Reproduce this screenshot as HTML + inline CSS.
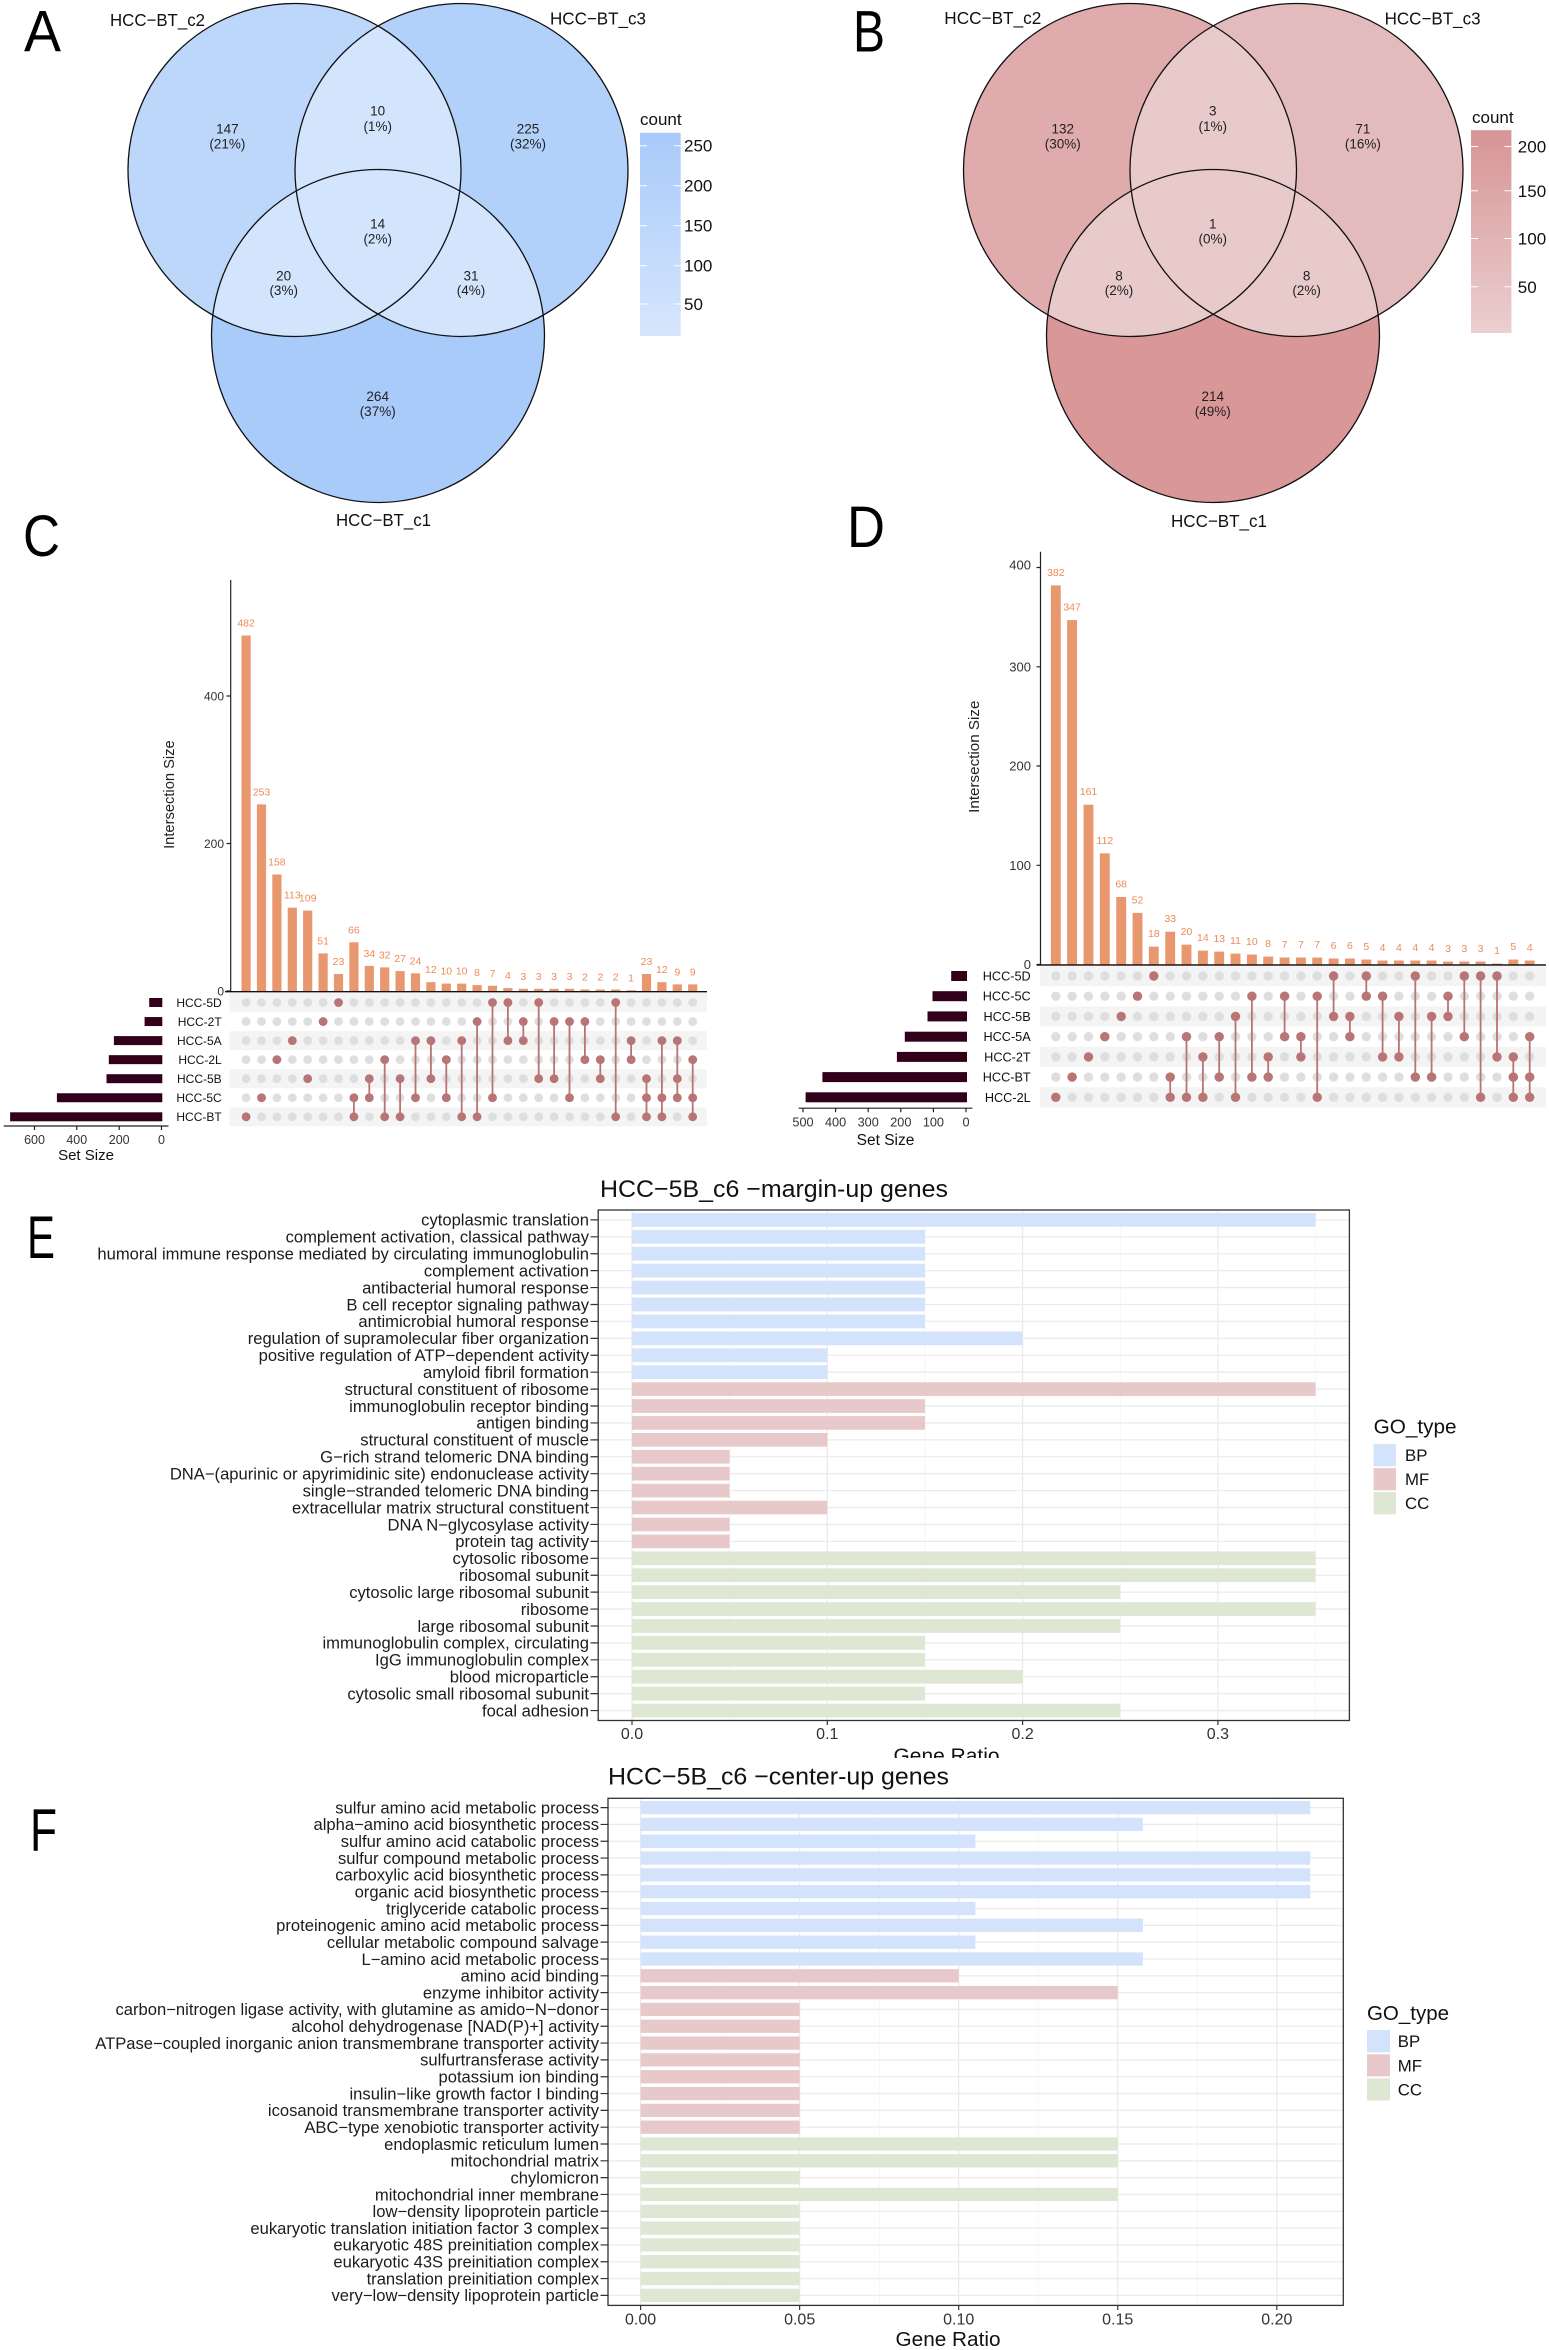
<!DOCTYPE html>
<html><head><meta charset="utf-8"><title>Figure</title>
<style>
html,body{margin:0;padding:0;background:#fff;}
svg{display:block;font-family:"Liberation Sans",Arial,sans-serif;}
</style></head>
<body>
<svg xmlns="http://www.w3.org/2000/svg" width="1549" height="2350" viewBox="0 0 1549 2350">
<defs>
<clipPath id="a2"><circle cx="294.5" cy="170" r="166.5"/></clipPath>
<clipPath id="a3"><circle cx="461.5" cy="170" r="166.5"/></clipPath>
<clipPath id="b2"><circle cx="1130" cy="170" r="166.5"/></clipPath>
<clipPath id="b3"><circle cx="1296.5" cy="170" r="166.5"/></clipPath>
<linearGradient id="ga" x1="0" y1="0" x2="0" y2="1"><stop offset="0" stop-color="#a8cafa"/><stop offset="1" stop-color="#d6e6fd"/></linearGradient>
<linearGradient id="gb" x1="0" y1="0" x2="0" y2="1"><stop offset="0" stop-color="#d79495"/><stop offset="1" stop-color="#ebcfd0"/></linearGradient>
<pattern id="pc" patternUnits="userSpaceOnUse" x="238.4" y="992.975" width="15.4" height="19.05"><circle cx="7.7" cy="9.525" r="4.4" fill="#dedede"/></pattern>
<pattern id="pd" patternUnits="userSpaceOnUse" x="1047.63" y="965.89" width="16.34" height="20.22"><circle cx="8.17" cy="10.11" r="4.7" fill="#dedede"/></pattern>
<clipPath id="ce"><rect x="0" y="1700" width="1549" height="58"/></clipPath>
</defs>
<rect width="1549" height="2350" fill="#fff"/>

<!-- ================= PANEL A ================= -->
<text x="24" y="51.5" font-size="58" textLength="37" lengthAdjust="spacingAndGlyphs">A</text>
<circle cx="294.5" cy="170" r="166.5" fill="#bdd7fb"/>
<circle cx="461.5" cy="170" r="166.5" fill="#b1d0fa"/>
<circle cx="378" cy="336" r="166.5" fill="#a9cbfa"/>
<g clip-path="url(#a2)"><circle cx="461.5" cy="170" r="166.5" fill="#d3e4fd"/><circle cx="378" cy="336" r="166.5" fill="#d3e4fd"/></g>
<g clip-path="url(#a3)"><circle cx="378" cy="336" r="166.5" fill="#d3e4fd"/></g>
<g fill="none" stroke="#111" stroke-width="1.3">
<circle cx="294.5" cy="170" r="166.5"/><circle cx="461.5" cy="170" r="166.5"/><circle cx="378" cy="336" r="166.5"/>
</g>
<g font-size="17.5" fill="#111">
<text x="110" y="26" textLength="95" lengthAdjust="spacingAndGlyphs">HCC−BT_c2</text>
<text x="550" y="24.5" textLength="96" lengthAdjust="spacingAndGlyphs">HCC−BT_c3</text>
<text x="336" y="526" textLength="95" lengthAdjust="spacingAndGlyphs">HCC−BT_c1</text>
</g>
<g font-size="13.5" fill="#222" text-anchor="middle">
<text x="227.4" y="133.3">147</text><text x="227.4" y="148.5">(21%)</text>
<text x="377.7" y="115.7">10</text><text x="377.7" y="130.9">(1%)</text>
<text x="528" y="133.3">225</text><text x="528" y="148.5">(32%)</text>
<text x="377.7" y="228.6">14</text><text x="377.7" y="243.5">(2%)</text>
<text x="283.7" y="280.3">20</text><text x="283.7" y="294.8">(3%)</text>
<text x="471" y="280.3">31</text><text x="471" y="294.8">(4%)</text>
<text x="377.7" y="401">264</text><text x="377.7" y="415.9">(37%)</text>
</g>
<text x="640" y="125" font-size="17" fill="#111">count</text>
<rect x="640" y="132.8" width="40.7" height="203.2" fill="url(#ga)"/>
<g stroke="#fff" stroke-width="1">
<path d="M640 145.7h7M673.7 145.7h7M640 185.7h7M673.7 185.7h7M640 225.7h7M673.7 225.7h7M640 265.7h7M673.7 265.7h7M640 304h7M673.7 304h7"/>
</g>
<g font-size="17" fill="#111">
<text x="684" y="151.7">250</text><text x="684" y="191.7">200</text><text x="684" y="231.5">150</text><text x="684" y="271.5">100</text><text x="684" y="309.8">50</text>
</g>

<!-- ================= PANEL B ================= -->
<text x="853" y="51.5" font-size="58" textLength="32" lengthAdjust="spacingAndGlyphs">B</text>
<circle cx="1130" cy="170" r="166.5" fill="#dfabac"/>
<circle cx="1296.5" cy="170" r="166.5" fill="#e3bbbc"/>
<circle cx="1213" cy="336" r="166.5" fill="#d99798"/>
<g clip-path="url(#b2)"><circle cx="1296.5" cy="170" r="166.5" fill="#e8cacb"/><circle cx="1213" cy="336" r="166.5" fill="#e8cacb"/></g>
<g clip-path="url(#b3)"><circle cx="1213" cy="336" r="166.5" fill="#e8cacb"/></g>
<g fill="none" stroke="#111" stroke-width="1.3">
<circle cx="1130" cy="170" r="166.5"/><circle cx="1296.5" cy="170" r="166.5"/><circle cx="1213" cy="336" r="166.5"/>
</g>
<g font-size="17.5" fill="#111">
<text x="944.3" y="24" textLength="97" lengthAdjust="spacingAndGlyphs">HCC−BT_c2</text>
<text x="1384.6" y="24.5" textLength="96" lengthAdjust="spacingAndGlyphs">HCC−BT_c3</text>
<text x="1171" y="527" textLength="96" lengthAdjust="spacingAndGlyphs">HCC−BT_c1</text>
</g>
<g font-size="13.5" fill="#222" text-anchor="middle">
<text x="1062.8" y="133.3">132</text><text x="1062.8" y="148.5">(30%)</text>
<text x="1212.8" y="115.7">3</text><text x="1212.8" y="130.9">(1%)</text>
<text x="1362.9" y="133.3">71</text><text x="1362.9" y="148.5">(16%)</text>
<text x="1212.8" y="228.6">1</text><text x="1212.8" y="243.5">(0%)</text>
<text x="1119" y="280.3">8</text><text x="1119" y="294.8">(2%)</text>
<text x="1306.6" y="280.3">8</text><text x="1306.6" y="294.8">(2%)</text>
<text x="1212.8" y="401">214</text><text x="1212.8" y="415.9">(49%)</text>
</g>
<text x="1472" y="123" font-size="17" fill="#111">count</text>
<rect x="1471" y="130.2" width="40.4" height="202.8" fill="url(#gb)"/>
<g stroke="#fff" stroke-width="1">
<path d="M1471 146.5h7M1504.4 146.5h7M1471 190.8h7M1504.4 190.8h7M1471 238.5h7M1504.4 238.5h7M1471 286.8h7M1504.4 286.8h7"/>
</g>
<g font-size="17" fill="#111">
<text x="1517.8" y="152.5">200</text><text x="1517.8" y="196.8">150</text><text x="1517.8" y="244.5">100</text><text x="1517.8" y="292.8">50</text>
</g>

<!-- ================= PANEL C ================= -->
<text x="23" y="556" font-size="58" textLength="37" lengthAdjust="spacingAndGlyphs">C</text>
<path d="M230.7 580V991.7M226.5 991H230.7M226.5 843.5H230.7M226.5 696H230.7" stroke="#222" stroke-width="1.2" fill="none"/>
<g font-size="12" fill="#333" text-anchor="end">
<text x="224" y="700.3">400</text><text x="224" y="847.8">200</text><text x="224" y="995.3">0</text>
</g>
<text transform="translate(174,794.6) rotate(-90)" font-size="14.7" fill="#222" text-anchor="middle">Intersection Size</text>
<g fill="#e8976e">
<rect x="241.5" y="635.5" width="9.2" height="355.5"/>
<rect x="256.9" y="804.4" width="9.2" height="186.6"/>
<rect x="272.3" y="874.5" width="9.2" height="116.5"/>
<rect x="287.7" y="907.7" width="9.2" height="83.3"/>
<rect x="303.1" y="910.6" width="9.2" height="80.4"/>
<rect x="318.5" y="953.4" width="9.2" height="37.6"/>
<rect x="333.9" y="974" width="9.2" height="17"/>
<rect x="349.3" y="942.3" width="9.2" height="48.7"/>
<rect x="364.7" y="965.9" width="9.2" height="25.1"/>
<rect x="380.1" y="967.4" width="9.2" height="23.6"/>
<rect x="395.5" y="971.1" width="9.2" height="19.9"/>
<rect x="410.9" y="973.3" width="9.2" height="17.7"/>
<rect x="426.3" y="982.15" width="9.2" height="8.85"/>
<rect x="441.7" y="983.6" width="9.2" height="7.4"/>
<rect x="457.1" y="983.6" width="9.2" height="7.4"/>
<rect x="472.5" y="985.1" width="9.2" height="5.9"/>
<rect x="487.9" y="985.8" width="9.2" height="5.2"/>
<rect x="503.3" y="988.05" width="9.2" height="2.95"/>
<rect x="518.7" y="988.8" width="9.2" height="2.2"/>
<rect x="534.1" y="988.8" width="9.2" height="2.2"/>
<rect x="549.5" y="988.8" width="9.2" height="2.2"/>
<rect x="564.9" y="988.8" width="9.2" height="2.2"/>
<rect x="580.3" y="989.5" width="9.2" height="1.5"/>
<rect x="595.7" y="989.5" width="9.2" height="1.5"/>
<rect x="611.1" y="989.5" width="9.2" height="1.5"/>
<rect x="626.5" y="990.26" width="9.2" height="0.74"/>
<rect x="641.9" y="974" width="9.2" height="17"/>
<rect x="657.3" y="982.15" width="9.2" height="8.85"/>
<rect x="672.7" y="984.4" width="9.2" height="6.6"/>
<rect x="688.1" y="984.4" width="9.2" height="6.6"/>
</g>
<g font-size="10.5" fill="#ef8a55" text-anchor="middle">
<text x="246.1" y="626.5">482</text><text x="261.5" y="795.4">253</text><text x="276.9" y="865.5">158</text>
<text x="292.3" y="898.7">113</text><text x="307.7" y="901.6">109</text><text x="323.1" y="944.4">51</text>
<text x="338.5" y="965">23</text><text x="353.9" y="933.3">66</text><text x="369.3" y="956.9">34</text>
<text x="384.7" y="958.4">32</text><text x="400.1" y="962.1">27</text><text x="415.5" y="964.3">24</text>
<text x="430.9" y="973.15">12</text><text x="446.3" y="974.6">10</text><text x="461.7" y="974.6">10</text>
<text x="477.1" y="976.1">8</text><text x="492.5" y="976.8">7</text><text x="507.9" y="979.05">4</text>
<text x="523.3" y="979.8">3</text><text x="538.7" y="979.8">3</text><text x="554.1" y="979.8">3</text>
<text x="569.5" y="979.8">3</text><text x="584.9" y="980.5">2</text><text x="600.3" y="980.5">2</text>
<text x="615.7" y="980.5">2</text><text x="631.1" y="981.26">1</text><text x="646.5" y="965">23</text>
<text x="661.9" y="973.15">12</text><text x="677.3" y="975.4">9</text><text x="692.7" y="975.4">9</text>
</g>
<line x1="225" y1="991.7" x2="707" y2="991.7" stroke="#111" stroke-width="1.4"/>
<g fill="#f4f4f4">
<rect x="229.6" y="993" width="477.4" height="19"/>
<rect x="229.6" y="1031.1" width="477.4" height="19"/>
<rect x="229.6" y="1069.2" width="477.4" height="19"/>
<rect x="229.6" y="1107.3" width="477.4" height="19"/>
</g>
<rect x="238.4" y="992.975" width="462" height="133.35" fill="url(#pc)"/>
<path d="M353.9 1097.75V1116.8M369.3 1078.7V1097.75M384.7 1059.65V1116.8M400.1 1078.7V1116.8M415.5 1040.6V1097.75M430.9 1040.6V1078.7M446.3 1059.65V1097.75M461.7 1040.6V1116.8M477.1 1021.55V1116.8M492.5 1002.5V1097.75M507.9 1002.5V1040.6M523.3 1021.55V1040.6M538.7 1002.5V1078.7M554.1 1021.55V1078.7M569.5 1021.55V1097.75M584.9 1021.55V1059.65M600.3 1059.65V1078.7M615.7 1002.5V1116.8M631.1 1040.6V1059.65M646.5 1078.7V1116.8M661.9 1040.6V1116.8M677.3 1040.6V1097.75M692.7 1059.65V1116.8" stroke="#b97475" stroke-width="1.8" fill="none"/>
<g fill="#b97475">
<circle cx="246.1" cy="1116.8" r="4.4"/><circle cx="261.5" cy="1097.75" r="4.4"/><circle cx="276.9" cy="1059.65" r="4.4"/><circle cx="292.3" cy="1040.6" r="4.4"/><circle cx="307.7" cy="1078.7" r="4.4"/><circle cx="323.1" cy="1021.55" r="4.4"/><circle cx="338.5" cy="1002.5" r="4.4"/>
<circle cx="353.9" cy="1097.75" r="4.4"/><circle cx="353.9" cy="1116.8" r="4.4"/>
<circle cx="369.3" cy="1078.7" r="4.4"/><circle cx="369.3" cy="1097.75" r="4.4"/>
<circle cx="384.7" cy="1059.65" r="4.4"/><circle cx="384.7" cy="1116.8" r="4.4"/>
<circle cx="400.1" cy="1078.7" r="4.4"/><circle cx="400.1" cy="1116.8" r="4.4"/>
<circle cx="415.5" cy="1040.6" r="4.4"/><circle cx="415.5" cy="1097.75" r="4.4"/>
<circle cx="430.9" cy="1040.6" r="4.4"/><circle cx="430.9" cy="1078.7" r="4.4"/>
<circle cx="446.3" cy="1059.65" r="4.4"/><circle cx="446.3" cy="1097.75" r="4.4"/>
<circle cx="461.7" cy="1040.6" r="4.4"/><circle cx="461.7" cy="1116.8" r="4.4"/>
<circle cx="477.1" cy="1021.55" r="4.4"/><circle cx="477.1" cy="1116.8" r="4.4"/>
<circle cx="492.5" cy="1002.5" r="4.4"/><circle cx="492.5" cy="1097.75" r="4.4"/>
<circle cx="507.9" cy="1002.5" r="4.4"/><circle cx="507.9" cy="1040.6" r="4.4"/>
<circle cx="523.3" cy="1021.55" r="4.4"/><circle cx="523.3" cy="1040.6" r="4.4"/>
<circle cx="538.7" cy="1002.5" r="4.4"/><circle cx="538.7" cy="1078.7" r="4.4"/>
<circle cx="554.1" cy="1021.55" r="4.4"/><circle cx="554.1" cy="1078.7" r="4.4"/>
<circle cx="569.5" cy="1021.55" r="4.4"/><circle cx="569.5" cy="1097.75" r="4.4"/>
<circle cx="584.9" cy="1021.55" r="4.4"/><circle cx="584.9" cy="1059.65" r="4.4"/>
<circle cx="600.3" cy="1059.65" r="4.4"/><circle cx="600.3" cy="1078.7" r="4.4"/>
<circle cx="615.7" cy="1002.5" r="4.4"/><circle cx="615.7" cy="1116.8" r="4.4"/>
<circle cx="631.1" cy="1040.6" r="4.4"/><circle cx="631.1" cy="1059.65" r="4.4"/>
<circle cx="646.5" cy="1078.7" r="4.4"/><circle cx="646.5" cy="1097.75" r="4.4"/><circle cx="646.5" cy="1116.8" r="4.4"/>
<circle cx="661.9" cy="1040.6" r="4.4"/><circle cx="661.9" cy="1097.75" r="4.4"/><circle cx="661.9" cy="1116.8" r="4.4"/>
<circle cx="677.3" cy="1040.6" r="4.4"/><circle cx="677.3" cy="1078.7" r="4.4"/><circle cx="677.3" cy="1097.75" r="4.4"/>
<circle cx="692.7" cy="1059.65" r="4.4"/><circle cx="692.7" cy="1097.75" r="4.4"/><circle cx="692.7" cy="1116.8" r="4.4"/>
</g>
<g font-size="12" fill="#111" text-anchor="end">
<text x="221.7" y="1006.8">HCC-5D</text><text x="221.7" y="1025.85">HCC-2T</text><text x="221.7" y="1044.9">HCC-5A</text>
<text x="221.7" y="1063.95">HCC-2L</text><text x="221.7" y="1083">HCC-5B</text><text x="221.7" y="1102.05">HCC-5C</text><text x="221.7" y="1121.1">HCC-BT</text>
</g>
<g fill="#32001a">
<rect x="149.2" y="998" width="13.1" height="9"/>
<rect x="144.6" y="1017.05" width="17.7" height="9"/>
<rect x="113.9" y="1036.1" width="48.4" height="9"/>
<rect x="108.8" y="1055.15" width="53.5" height="9"/>
<rect x="106.5" y="1074.2" width="55.8" height="9"/>
<rect x="56.9" y="1093.25" width="105.4" height="9"/>
<rect x="10.1" y="1112.3" width="152.2" height="9"/>
</g>
<path d="M3.7 1126H168.5M34.5 1126V1130M76.8 1126V1130M119.2 1126V1130M161.5 1126V1130" stroke="#222" stroke-width="1.2" fill="none"/>
<g font-size="12.5" fill="#333" text-anchor="middle">
<text x="34.5" y="1144">600</text><text x="76.8" y="1144">400</text><text x="119.2" y="1144">200</text><text x="161.5" y="1144">0</text>
</g>
<text x="86" y="1160" font-size="15" fill="#111" text-anchor="middle">Set Size</text>

<!-- ================= PANEL D ================= -->
<text x="847" y="547" font-size="58" textLength="38" lengthAdjust="spacingAndGlyphs">D</text>
<path d="M1040.5 551.8V965M1036.5 964.5H1040.5M1036.5 865.3H1040.5M1036.5 766H1040.5M1036.5 666.8H1040.5M1036.5 567.5H1040.5" stroke="#222" stroke-width="1.2" fill="none"/>
<g font-size="13" fill="#333" text-anchor="end">
<text x="1031" y="569.5">400</text><text x="1031" y="671.5">300</text><text x="1031" y="770.7">200</text><text x="1031" y="870">100</text><text x="1031" y="969.2">0</text>
</g>
<text transform="translate(979,756.7) rotate(-90)" font-size="15.2" fill="#222" text-anchor="middle">Intersection Size</text>
<g fill="#e8976e">
<rect x="1050.85" y="585.4" width="9.9" height="379.1"/>
<rect x="1067.15" y="620.1" width="9.9" height="344.4"/>
<rect x="1083.55" y="804.7" width="9.9" height="159.8"/>
<rect x="1099.85" y="853.3" width="9.9" height="111.2"/>
<rect x="1116.25" y="897" width="9.9" height="67.5"/>
<rect x="1132.55" y="912.9" width="9.9" height="51.6"/>
<rect x="1148.85" y="946.6" width="9.9" height="17.9"/>
<rect x="1165.25" y="931.7" width="9.9" height="32.8"/>
<rect x="1181.55" y="944.65" width="9.9" height="19.85"/>
<rect x="1197.95" y="950.6" width="9.9" height="13.9"/>
<rect x="1214.25" y="951.6" width="9.9" height="12.9"/>
<rect x="1230.55" y="953.6" width="9.9" height="10.9"/>
<rect x="1246.95" y="954.6" width="9.9" height="9.9"/>
<rect x="1263.25" y="956.6" width="9.9" height="7.9"/>
<rect x="1279.65" y="957.55" width="9.9" height="6.95"/>
<rect x="1295.95" y="957.55" width="9.9" height="6.95"/>
<rect x="1312.25" y="957.55" width="9.9" height="6.95"/>
<rect x="1328.65" y="958.54" width="9.9" height="5.96"/>
<rect x="1344.95" y="958.54" width="9.9" height="5.96"/>
<rect x="1361.35" y="959.54" width="9.9" height="4.96"/>
<rect x="1377.65" y="960.53" width="9.9" height="3.97"/>
<rect x="1393.95" y="960.53" width="9.9" height="3.97"/>
<rect x="1410.35" y="960.53" width="9.9" height="3.97"/>
<rect x="1426.65" y="960.53" width="9.9" height="3.97"/>
<rect x="1443.05" y="961.52" width="9.9" height="2.98"/>
<rect x="1459.35" y="961.52" width="9.9" height="2.98"/>
<rect x="1475.65" y="961.52" width="9.9" height="2.98"/>
<rect x="1492.05" y="963.5" width="9.9" height="1"/>
<rect x="1508.35" y="959.54" width="9.9" height="4.96"/>
<rect x="1524.75" y="960.53" width="9.9" height="3.97"/>
</g>
<g font-size="10.5" fill="#ef8a55" text-anchor="middle">
<text x="1055.8" y="575.9">382</text><text x="1072.1" y="610.6">347</text><text x="1088.5" y="795.2">161</text>
<text x="1104.8" y="843.8">112</text><text x="1121.2" y="887.5">68</text><text x="1137.5" y="903.4">52</text>
<text x="1153.8" y="937.1">18</text><text x="1170.2" y="922.2">33</text><text x="1186.5" y="935.15">20</text>
<text x="1202.9" y="941.1">14</text><text x="1219.2" y="942.1">13</text><text x="1235.5" y="944.1">11</text>
<text x="1251.9" y="945.1">10</text><text x="1268.2" y="947.1">8</text><text x="1284.6" y="948.05">7</text>
<text x="1300.9" y="948.05">7</text><text x="1317.2" y="948.05">7</text><text x="1333.6" y="949.04">6</text>
<text x="1349.9" y="949.04">6</text><text x="1366.3" y="950.04">5</text><text x="1382.6" y="951.03">4</text>
<text x="1398.9" y="951.03">4</text><text x="1415.3" y="951.03">4</text><text x="1431.6" y="951.03">4</text>
<text x="1448" y="952.02">3</text><text x="1464.3" y="952.02">3</text><text x="1480.6" y="952.02">3</text>
<text x="1497" y="954">1</text><text x="1513.3" y="950.04">5</text><text x="1529.7" y="951.03">4</text>
</g>
<line x1="1036.6" y1="965" x2="1546" y2="965" stroke="#111" stroke-width="1.4"/>
<g fill="#f4f4f4">
<rect x="1040" y="965.9" width="506" height="20.2"/>
<rect x="1040" y="1006.3" width="506" height="20.2"/>
<rect x="1040" y="1046.8" width="506" height="20.2"/>
<rect x="1040" y="1087.2" width="506" height="20.2"/>
</g>
<rect x="1047.63" y="965.89" width="490.2" height="141.54" fill="url(#pd)"/>
<path d="M1170.2 1077.1V1097.3M1186.5 1036.7V1097.3M1202.9 1056.9V1097.3M1219.2 1036.7V1077.1M1235.5 1016.4V1097.3M1251.9 996.2V1077.1M1268.2 1056.9V1077.1M1284.6 996.2V1036.7M1300.9 1036.7V1056.9M1317.2 996.2V1097.3M1333.6 976V1016.4M1349.9 1016.4V1036.7M1366.3 976V996.2M1382.6 996.2V1056.9M1398.9 1016.4V1056.9M1415.3 976V1077.1M1431.6 1016.4V1077.1M1448 996.2V1016.4M1464.3 976V1036.7M1480.6 976V1097.3M1497 976V1056.9M1513.3 1056.9V1097.3M1529.7 1036.7V1097.3" stroke="#b97475" stroke-width="1.8" fill="none"/>
<g fill="#b97475">
<circle cx="1055.8" cy="1097.3" r="4.7"/><circle cx="1072.1" cy="1077.1" r="4.7"/><circle cx="1088.5" cy="1056.9" r="4.7"/><circle cx="1104.8" cy="1036.7" r="4.7"/><circle cx="1121.2" cy="1016.4" r="4.7"/><circle cx="1137.5" cy="996.2" r="4.7"/><circle cx="1153.8" cy="976" r="4.7"/>
<circle cx="1170.2" cy="1077.1" r="4.7"/><circle cx="1170.2" cy="1097.3" r="4.7"/>
<circle cx="1186.5" cy="1036.7" r="4.7"/><circle cx="1186.5" cy="1097.3" r="4.7"/>
<circle cx="1202.9" cy="1056.9" r="4.7"/><circle cx="1202.9" cy="1097.3" r="4.7"/>
<circle cx="1219.2" cy="1036.7" r="4.7"/><circle cx="1219.2" cy="1077.1" r="4.7"/>
<circle cx="1235.5" cy="1016.4" r="4.7"/><circle cx="1235.5" cy="1097.3" r="4.7"/>
<circle cx="1251.9" cy="996.2" r="4.7"/><circle cx="1251.9" cy="1077.1" r="4.7"/>
<circle cx="1268.2" cy="1056.9" r="4.7"/><circle cx="1268.2" cy="1077.1" r="4.7"/>
<circle cx="1284.6" cy="996.2" r="4.7"/><circle cx="1284.6" cy="1036.7" r="4.7"/>
<circle cx="1300.9" cy="1036.7" r="4.7"/><circle cx="1300.9" cy="1056.9" r="4.7"/>
<circle cx="1317.2" cy="996.2" r="4.7"/><circle cx="1317.2" cy="1097.3" r="4.7"/>
<circle cx="1333.6" cy="976" r="4.7"/><circle cx="1333.6" cy="1016.4" r="4.7"/>
<circle cx="1349.9" cy="1016.4" r="4.7"/><circle cx="1349.9" cy="1036.7" r="4.7"/>
<circle cx="1366.3" cy="976" r="4.7"/><circle cx="1366.3" cy="996.2" r="4.7"/>
<circle cx="1382.6" cy="996.2" r="4.7"/><circle cx="1382.6" cy="1056.9" r="4.7"/>
<circle cx="1398.9" cy="1016.4" r="4.7"/><circle cx="1398.9" cy="1056.9" r="4.7"/>
<circle cx="1415.3" cy="976" r="4.7"/><circle cx="1415.3" cy="1077.1" r="4.7"/>
<circle cx="1431.6" cy="1016.4" r="4.7"/><circle cx="1431.6" cy="1077.1" r="4.7"/>
<circle cx="1448" cy="996.2" r="4.7"/><circle cx="1448" cy="1016.4" r="4.7"/>
<circle cx="1464.3" cy="976" r="4.7"/><circle cx="1464.3" cy="1036.7" r="4.7"/>
<circle cx="1480.6" cy="976" r="4.7"/><circle cx="1480.6" cy="1097.3" r="4.7"/>
<circle cx="1497" cy="976" r="4.7"/><circle cx="1497" cy="1056.9" r="4.7"/>
<circle cx="1513.3" cy="1056.9" r="4.7"/><circle cx="1513.3" cy="1077.1" r="4.7"/><circle cx="1513.3" cy="1097.3" r="4.7"/>
<circle cx="1529.7" cy="1036.7" r="4.7"/><circle cx="1529.7" cy="1077.1" r="4.7"/><circle cx="1529.7" cy="1097.3" r="4.7"/>
</g>
<g font-size="12.7" fill="#111" text-anchor="end">
<text x="1030.7" y="980.5">HCC-5D</text><text x="1030.7" y="1000.7">HCC-5C</text><text x="1030.7" y="1020.9">HCC-5B</text>
<text x="1030.7" y="1041.2">HCC-5A</text><text x="1030.7" y="1061.4">HCC-2T</text><text x="1030.7" y="1081.6">HCC-BT</text><text x="1030.7" y="1101.8">HCC-2L</text>
</g>
<g fill="#32001a">
<rect x="951.2" y="971" width="15.8" height="10"/>
<rect x="932.5" y="991.2" width="34.5" height="10"/>
<rect x="927.5" y="1011.4" width="39.5" height="10"/>
<rect x="904.8" y="1031.7" width="62.2" height="10"/>
<rect x="896.9" y="1051.9" width="70.1" height="10"/>
<rect x="822.4" y="1072.1" width="144.6" height="10"/>
<rect x="805.6" y="1092.3" width="161.4" height="10"/>
</g>
<path d="M798.7 1108.2H972.4M803 1108.2V1112.2M835.6 1108.2V1112.2M868.2 1108.2V1112.2M900.8 1108.2V1112.2M933.4 1108.2V1112.2M966 1108.2V1112.2" stroke="#222" stroke-width="1.2" fill="none"/>
<g font-size="12.7" fill="#333" text-anchor="middle">
<text x="803" y="1126.5">500</text><text x="835.6" y="1126.5">400</text><text x="868.2" y="1126.5">300</text><text x="900.8" y="1126.5">200</text><text x="933.4" y="1126.5">100</text><text x="966" y="1126.5">0</text>
</g>
<text x="885.5" y="1145" font-size="15.5" fill="#111" text-anchor="middle">Set Size</text>

<!-- ================= PANEL E ================= -->
<text x="27" y="1258" font-size="60" textLength="28" lengthAdjust="spacingAndGlyphs">E</text>
<text x="600" y="1197" font-size="24.5" fill="#111" textLength="348" lengthAdjust="spacingAndGlyphs">HCC−5B_c6 −margin-up genes</text>
<rect x="598.2" y="1210" width="751.2" height="510.5" fill="#fff"/>
<path d="M729.65 1210V1720.5M924.95 1210V1720.5M1120.25 1210V1720.5M1315.55 1210V1720.5" stroke="#f4f4f4" stroke-width="0.8"/>
<path d="M632 1210V1720.5M827.3 1210V1720.5M1022.6 1210V1720.5M1217.9 1210V1720.5" stroke="#ebebeb" stroke-width="1.3"/>
<path d="M598.2 1219.9H1349.4M598.2 1236.82H1349.4M598.2 1253.74H1349.4M598.2 1270.66H1349.4M598.2 1287.58H1349.4M598.2 1304.5H1349.4M598.2 1321.42H1349.4M598.2 1338.34H1349.4M598.2 1355.26H1349.4M598.2 1372.18H1349.4M598.2 1389.1H1349.4M598.2 1406.02H1349.4M598.2 1422.94H1349.4M598.2 1439.86H1349.4M598.2 1456.78H1349.4M598.2 1473.7H1349.4M598.2 1490.62H1349.4M598.2 1507.54H1349.4M598.2 1524.46H1349.4M598.2 1541.38H1349.4M598.2 1558.3H1349.4M598.2 1575.22H1349.4M598.2 1592.14H1349.4M598.2 1609.06H1349.4M598.2 1625.98H1349.4M598.2 1642.9H1349.4M598.2 1659.82H1349.4M598.2 1676.74H1349.4M598.2 1693.66H1349.4M598.2 1710.58H1349.4" stroke="#ebebeb" stroke-width="1.3"/>
<g fill="#d2e3fb">
<rect x="632" y="1213.05" width="683.6" height="13.7"/>
<rect x="632" y="1229.97" width="293" height="13.7"/>
<rect x="632" y="1246.89" width="293" height="13.7"/>
<rect x="632" y="1263.81" width="293" height="13.7"/>
<rect x="632" y="1280.73" width="293" height="13.7"/>
<rect x="632" y="1297.65" width="293" height="13.7"/>
<rect x="632" y="1314.57" width="293" height="13.7"/>
<rect x="632" y="1331.49" width="390.6" height="13.7"/>
<rect x="632" y="1348.41" width="195.3" height="13.7"/>
<rect x="632" y="1365.33" width="195.3" height="13.7"/>
</g>
<g fill="#e8c9ca">
<rect x="632" y="1382.25" width="683.6" height="13.7"/>
<rect x="632" y="1399.17" width="293" height="13.7"/>
<rect x="632" y="1416.09" width="293" height="13.7"/>
<rect x="632" y="1433.01" width="195.3" height="13.7"/>
<rect x="632" y="1449.93" width="97.65" height="13.7"/>
<rect x="632" y="1466.85" width="97.65" height="13.7"/>
<rect x="632" y="1483.77" width="97.65" height="13.7"/>
<rect x="632" y="1500.69" width="195.3" height="13.7"/>
<rect x="632" y="1517.61" width="97.65" height="13.7"/>
<rect x="632" y="1534.53" width="97.65" height="13.7"/>
</g>
<g fill="#dde7d3">
<rect x="632" y="1551.45" width="683.6" height="13.7"/>
<rect x="632" y="1568.37" width="683.6" height="13.7"/>
<rect x="632" y="1585.29" width="488.3" height="13.7"/>
<rect x="632" y="1602.21" width="683.6" height="13.7"/>
<rect x="632" y="1619.13" width="488.3" height="13.7"/>
<rect x="632" y="1636.05" width="293" height="13.7"/>
<rect x="632" y="1652.97" width="293" height="13.7"/>
<rect x="632" y="1669.89" width="390.6" height="13.7"/>
<rect x="632" y="1686.81" width="293" height="13.7"/>
<rect x="632" y="1703.73" width="488.3" height="13.7"/>
</g>
<rect x="598.2" y="1210" width="751.2" height="510.5" fill="none" stroke="#333" stroke-width="1.3"/>
<path d="M590.5 1219.9H598.2M590.5 1236.82H598.2M590.5 1253.74H598.2M590.5 1270.66H598.2M590.5 1287.58H598.2M590.5 1304.5H598.2M590.5 1321.42H598.2M590.5 1338.34H598.2M590.5 1355.26H598.2M590.5 1372.18H598.2M590.5 1389.1H598.2M590.5 1406.02H598.2M590.5 1422.94H598.2M590.5 1439.86H598.2M590.5 1456.78H598.2M590.5 1473.7H598.2M590.5 1490.62H598.2M590.5 1507.54H598.2M590.5 1524.46H598.2M590.5 1541.38H598.2M590.5 1558.3H598.2M590.5 1575.22H598.2M590.5 1592.14H598.2M590.5 1609.06H598.2M590.5 1625.98H598.2M590.5 1642.9H598.2M590.5 1659.82H598.2M590.5 1676.74H598.2M590.5 1693.66H598.2M590.5 1710.58H598.2M632 1720.5V1725M827.3 1720.5V1725M1022.6 1720.5V1725M1217.9 1720.5V1725" stroke="#333" stroke-width="1.2"/>
<g font-size="16.6" fill="#1c1c1c" text-anchor="end">
<text x="589" y="1225.7">cytoplasmic translation</text>
<text x="589" y="1242.62">complement activation, classical pathway</text>
<text x="589" y="1259.54">humoral immune response mediated by circulating immunoglobulin</text>
<text x="589" y="1276.46">complement activation</text>
<text x="589" y="1293.38">antibacterial humoral response</text>
<text x="589" y="1310.3">B cell receptor signaling pathway</text>
<text x="589" y="1327.22">antimicrobial humoral response</text>
<text x="589" y="1344.14">regulation of supramolecular fiber organization</text>
<text x="589" y="1361.06">positive regulation of ATP−dependent activity</text>
<text x="589" y="1377.98">amyloid fibril formation</text>
<text x="589" y="1394.9">structural constituent of ribosome</text>
<text x="589" y="1411.82">immunoglobulin receptor binding</text>
<text x="589" y="1428.74">antigen binding</text>
<text x="589" y="1445.66">structural constituent of muscle</text>
<text x="589" y="1462.58">G−rich strand telomeric DNA binding</text>
<text x="589" y="1479.5">DNA−(apurinic or apyrimidinic site) endonuclease activity</text>
<text x="589" y="1496.42">single−stranded telomeric DNA binding</text>
<text x="589" y="1513.34">extracellular matrix structural constituent</text>
<text x="589" y="1530.26">DNA N−glycosylase activity</text>
<text x="589" y="1547.18">protein tag activity</text>
<text x="589" y="1564.1">cytosolic ribosome</text>
<text x="589" y="1581.02">ribosomal subunit</text>
<text x="589" y="1597.94">cytosolic large ribosomal subunit</text>
<text x="589" y="1614.86">ribosome</text>
<text x="589" y="1631.78">large ribosomal subunit</text>
<text x="589" y="1648.7">immunoglobulin complex, circulating</text>
<text x="589" y="1665.62">IgG immunoglobulin complex</text>
<text x="589" y="1682.54">blood microparticle</text>
<text x="589" y="1699.46">cytosolic small ribosomal subunit</text>
<text x="589" y="1716.38">focal adhesion</text>
</g>
<g font-size="16" fill="#333" text-anchor="middle">
<text x="632" y="1739">0.0</text><text x="827.3" y="1739">0.1</text><text x="1022.6" y="1739">0.2</text><text x="1217.9" y="1739">0.3</text>
</g>
<g clip-path="url(#ce)"><text x="946.5" y="1762.5" font-size="20" fill="#111" text-anchor="middle" textLength="106" lengthAdjust="spacingAndGlyphs">Gene Ratio</text></g>
<text x="1373.6" y="1433.7" font-size="20.6" fill="#111" textLength="83" lengthAdjust="spacingAndGlyphs">GO_type</text>
<rect x="1373.6" y="1444.1" width="22.4" height="22.2" fill="#d2e3fb"/>
<rect x="1373.6" y="1468.1" width="22.4" height="22.2" fill="#e8c9ca"/>
<rect x="1373.6" y="1492.1" width="22.4" height="22.2" fill="#dde7d3"/>
<g font-size="16.8" fill="#111">
<text x="1405" y="1461">BP</text><text x="1405" y="1485">MF</text><text x="1405" y="1509">CC</text>
</g>

<!-- ================= PANEL F ================= -->
<text x="30" y="1851" font-size="60" textLength="27" lengthAdjust="spacingAndGlyphs">F</text>
<text x="608" y="1784.3" font-size="24.5" fill="#111" textLength="341" lengthAdjust="spacingAndGlyphs">HCC−5B_c6 −center-up genes</text>
<rect x="608" y="1798.3" width="735.3" height="507.1" fill="#fff"/>
<path d="M720.1 1798.3V2305.4M879.2 1798.3V2305.4M1038.2 1798.3V2305.4M1197.3 1798.3V2305.4" stroke="#f4f4f4" stroke-width="0.8"/>
<path d="M640.6 1798.3V2305.4M799.65 1798.3V2305.4M958.7 1798.3V2305.4M1117.75 1798.3V2305.4M1276.8 1798.3V2305.4" stroke="#ebebeb" stroke-width="1.3"/>
<path d="M608 1807.6H1343.3M608 1824.42H1343.3M608 1841.24H1343.3M608 1858.06H1343.3M608 1874.88H1343.3M608 1891.7H1343.3M608 1908.52H1343.3M608 1925.34H1343.3M608 1942.16H1343.3M608 1958.98H1343.3M608 1975.8H1343.3M608 1992.62H1343.3M608 2009.44H1343.3M608 2026.26H1343.3M608 2043.08H1343.3M608 2059.9H1343.3M608 2076.72H1343.3M608 2093.54H1343.3M608 2110.36H1343.3M608 2127.18H1343.3M608 2144H1343.3M608 2160.82H1343.3M608 2177.64H1343.3M608 2194.46H1343.3M608 2211.28H1343.3M608 2228.1H1343.3M608 2244.92H1343.3M608 2261.74H1343.3M608 2278.56H1343.3M608 2295.38H1343.3" stroke="#ebebeb" stroke-width="1.3"/>
<g fill="#d2e3fb">
<rect x="640.6" y="1800.95" width="669.7" height="13.3"/>
<rect x="640.6" y="1817.77" width="502.3" height="13.3"/>
<rect x="640.6" y="1834.59" width="334.8" height="13.3"/>
<rect x="640.6" y="1851.41" width="669.7" height="13.3"/>
<rect x="640.6" y="1868.23" width="669.7" height="13.3"/>
<rect x="640.6" y="1885.05" width="669.7" height="13.3"/>
<rect x="640.6" y="1901.87" width="334.8" height="13.3"/>
<rect x="640.6" y="1918.69" width="502.3" height="13.3"/>
<rect x="640.6" y="1935.51" width="334.8" height="13.3"/>
<rect x="640.6" y="1952.33" width="502.3" height="13.3"/>
</g>
<g fill="#e8c9ca">
<rect x="640.6" y="1969.15" width="318.1" height="13.3"/>
<rect x="640.6" y="1985.97" width="477.2" height="13.3"/>
<rect x="640.6" y="2002.79" width="159.05" height="13.3"/>
<rect x="640.6" y="2019.61" width="159.05" height="13.3"/>
<rect x="640.6" y="2036.43" width="159.05" height="13.3"/>
<rect x="640.6" y="2053.25" width="159.05" height="13.3"/>
<rect x="640.6" y="2070.07" width="159.05" height="13.3"/>
<rect x="640.6" y="2086.89" width="159.05" height="13.3"/>
<rect x="640.6" y="2103.71" width="159.05" height="13.3"/>
<rect x="640.6" y="2120.53" width="159.05" height="13.3"/>
</g>
<g fill="#dde7d3">
<rect x="640.6" y="2137.35" width="477.2" height="13.3"/>
<rect x="640.6" y="2154.17" width="477.2" height="13.3"/>
<rect x="640.6" y="2170.99" width="159.05" height="13.3"/>
<rect x="640.6" y="2187.81" width="477.2" height="13.3"/>
<rect x="640.6" y="2204.63" width="159.05" height="13.3"/>
<rect x="640.6" y="2221.45" width="159.05" height="13.3"/>
<rect x="640.6" y="2238.27" width="159.05" height="13.3"/>
<rect x="640.6" y="2255.09" width="159.05" height="13.3"/>
<rect x="640.6" y="2271.91" width="159.05" height="13.3"/>
<rect x="640.6" y="2288.73" width="159.05" height="13.3"/>
</g>
<rect x="608" y="1798.3" width="735.3" height="507.1" fill="none" stroke="#333" stroke-width="1.3"/>
<path d="M600.5 1807.6H608M600.5 1824.42H608M600.5 1841.24H608M600.5 1858.06H608M600.5 1874.88H608M600.5 1891.7H608M600.5 1908.52H608M600.5 1925.34H608M600.5 1942.16H608M600.5 1958.98H608M600.5 1975.8H608M600.5 1992.62H608M600.5 2009.44H608M600.5 2026.26H608M600.5 2043.08H608M600.5 2059.9H608M600.5 2076.72H608M600.5 2093.54H608M600.5 2110.36H608M600.5 2127.18H608M600.5 2144H608M600.5 2160.82H608M600.5 2177.64H608M600.5 2194.46H608M600.5 2211.28H608M600.5 2228.1H608M600.5 2244.92H608M600.5 2261.74H608M600.5 2278.56H608M600.5 2295.38H608M640.6 2305.4V2310M799.65 2305.4V2310M958.7 2305.4V2310M1117.75 2305.4V2310M1276.8 2305.4V2310" stroke="#333" stroke-width="1.2"/>
<g font-size="16.6" fill="#1c1c1c" text-anchor="end">
<text x="599" y="1813.4">sulfur amino acid metabolic process</text>
<text x="599" y="1830.22">alpha−amino acid biosynthetic process</text>
<text x="599" y="1847.04">sulfur amino acid catabolic process</text>
<text x="599" y="1863.86">sulfur compound metabolic process</text>
<text x="599" y="1880.68">carboxylic acid biosynthetic process</text>
<text x="599" y="1897.5">organic acid biosynthetic process</text>
<text x="599" y="1914.32">triglyceride catabolic process</text>
<text x="599" y="1931.14">proteinogenic amino acid metabolic process</text>
<text x="599" y="1947.96">cellular metabolic compound salvage</text>
<text x="599" y="1964.78">L−amino acid metabolic process</text>
<text x="599" y="1981.6">amino acid binding</text>
<text x="599" y="1998.42">enzyme inhibitor activity</text>
<text x="599" y="2015.24">carbon−nitrogen ligase activity, with glutamine as amido−N−donor</text>
<text x="599" y="2032.06">alcohol dehydrogenase [NAD(P)+] activity</text>
<text x="599" y="2048.88">ATPase−coupled inorganic anion transmembrane transporter activity</text>
<text x="599" y="2065.7">sulfurtransferase activity</text>
<text x="599" y="2082.52">potassium ion binding</text>
<text x="599" y="2099.34">insulin−like growth factor I binding</text>
<text x="599" y="2116.16">icosanoid transmembrane transporter activity</text>
<text x="599" y="2132.98">ABC−type xenobiotic transporter activity</text>
<text x="599" y="2149.8">endoplasmic reticulum lumen</text>
<text x="599" y="2166.62">mitochondrial matrix</text>
<text x="599" y="2183.44">chylomicron</text>
<text x="599" y="2200.26">mitochondrial inner membrane</text>
<text x="599" y="2217.08">low−density lipoprotein particle</text>
<text x="599" y="2233.9">eukaryotic translation initiation factor 3 complex</text>
<text x="599" y="2250.72">eukaryotic 48S preinitiation complex</text>
<text x="599" y="2267.54">eukaryotic 43S preinitiation complex</text>
<text x="599" y="2284.36">translation preinitiation complex</text>
<text x="599" y="2301.18">very−low−density lipoprotein particle</text>
</g>
<g font-size="16" fill="#333" text-anchor="middle">
<text x="640.6" y="2324.3">0.00</text><text x="799.65" y="2324.3">0.05</text><text x="958.7" y="2324.3">0.10</text><text x="1117.75" y="2324.3">0.15</text><text x="1276.8" y="2324.3">0.20</text>
</g>
<text x="948" y="2346" font-size="20" fill="#111" text-anchor="middle" textLength="105" lengthAdjust="spacingAndGlyphs">Gene Ratio</text>
<text x="1367" y="2020" font-size="20.6" fill="#111" textLength="82" lengthAdjust="spacingAndGlyphs">GO_type</text>
<rect x="1367" y="2030" width="23" height="22.3" fill="#d2e3fb"/>
<rect x="1367" y="2054.3" width="23" height="22.1" fill="#e8c9ca"/>
<rect x="1367" y="2078.4" width="23" height="22.1" fill="#dde7d3"/>
<g font-size="16.8" fill="#111">
<text x="1397.8" y="2047.2">BP</text><text x="1397.8" y="2071.4">MF</text><text x="1397.8" y="2095.5">CC</text>
</g>
</svg>
</body></html>
